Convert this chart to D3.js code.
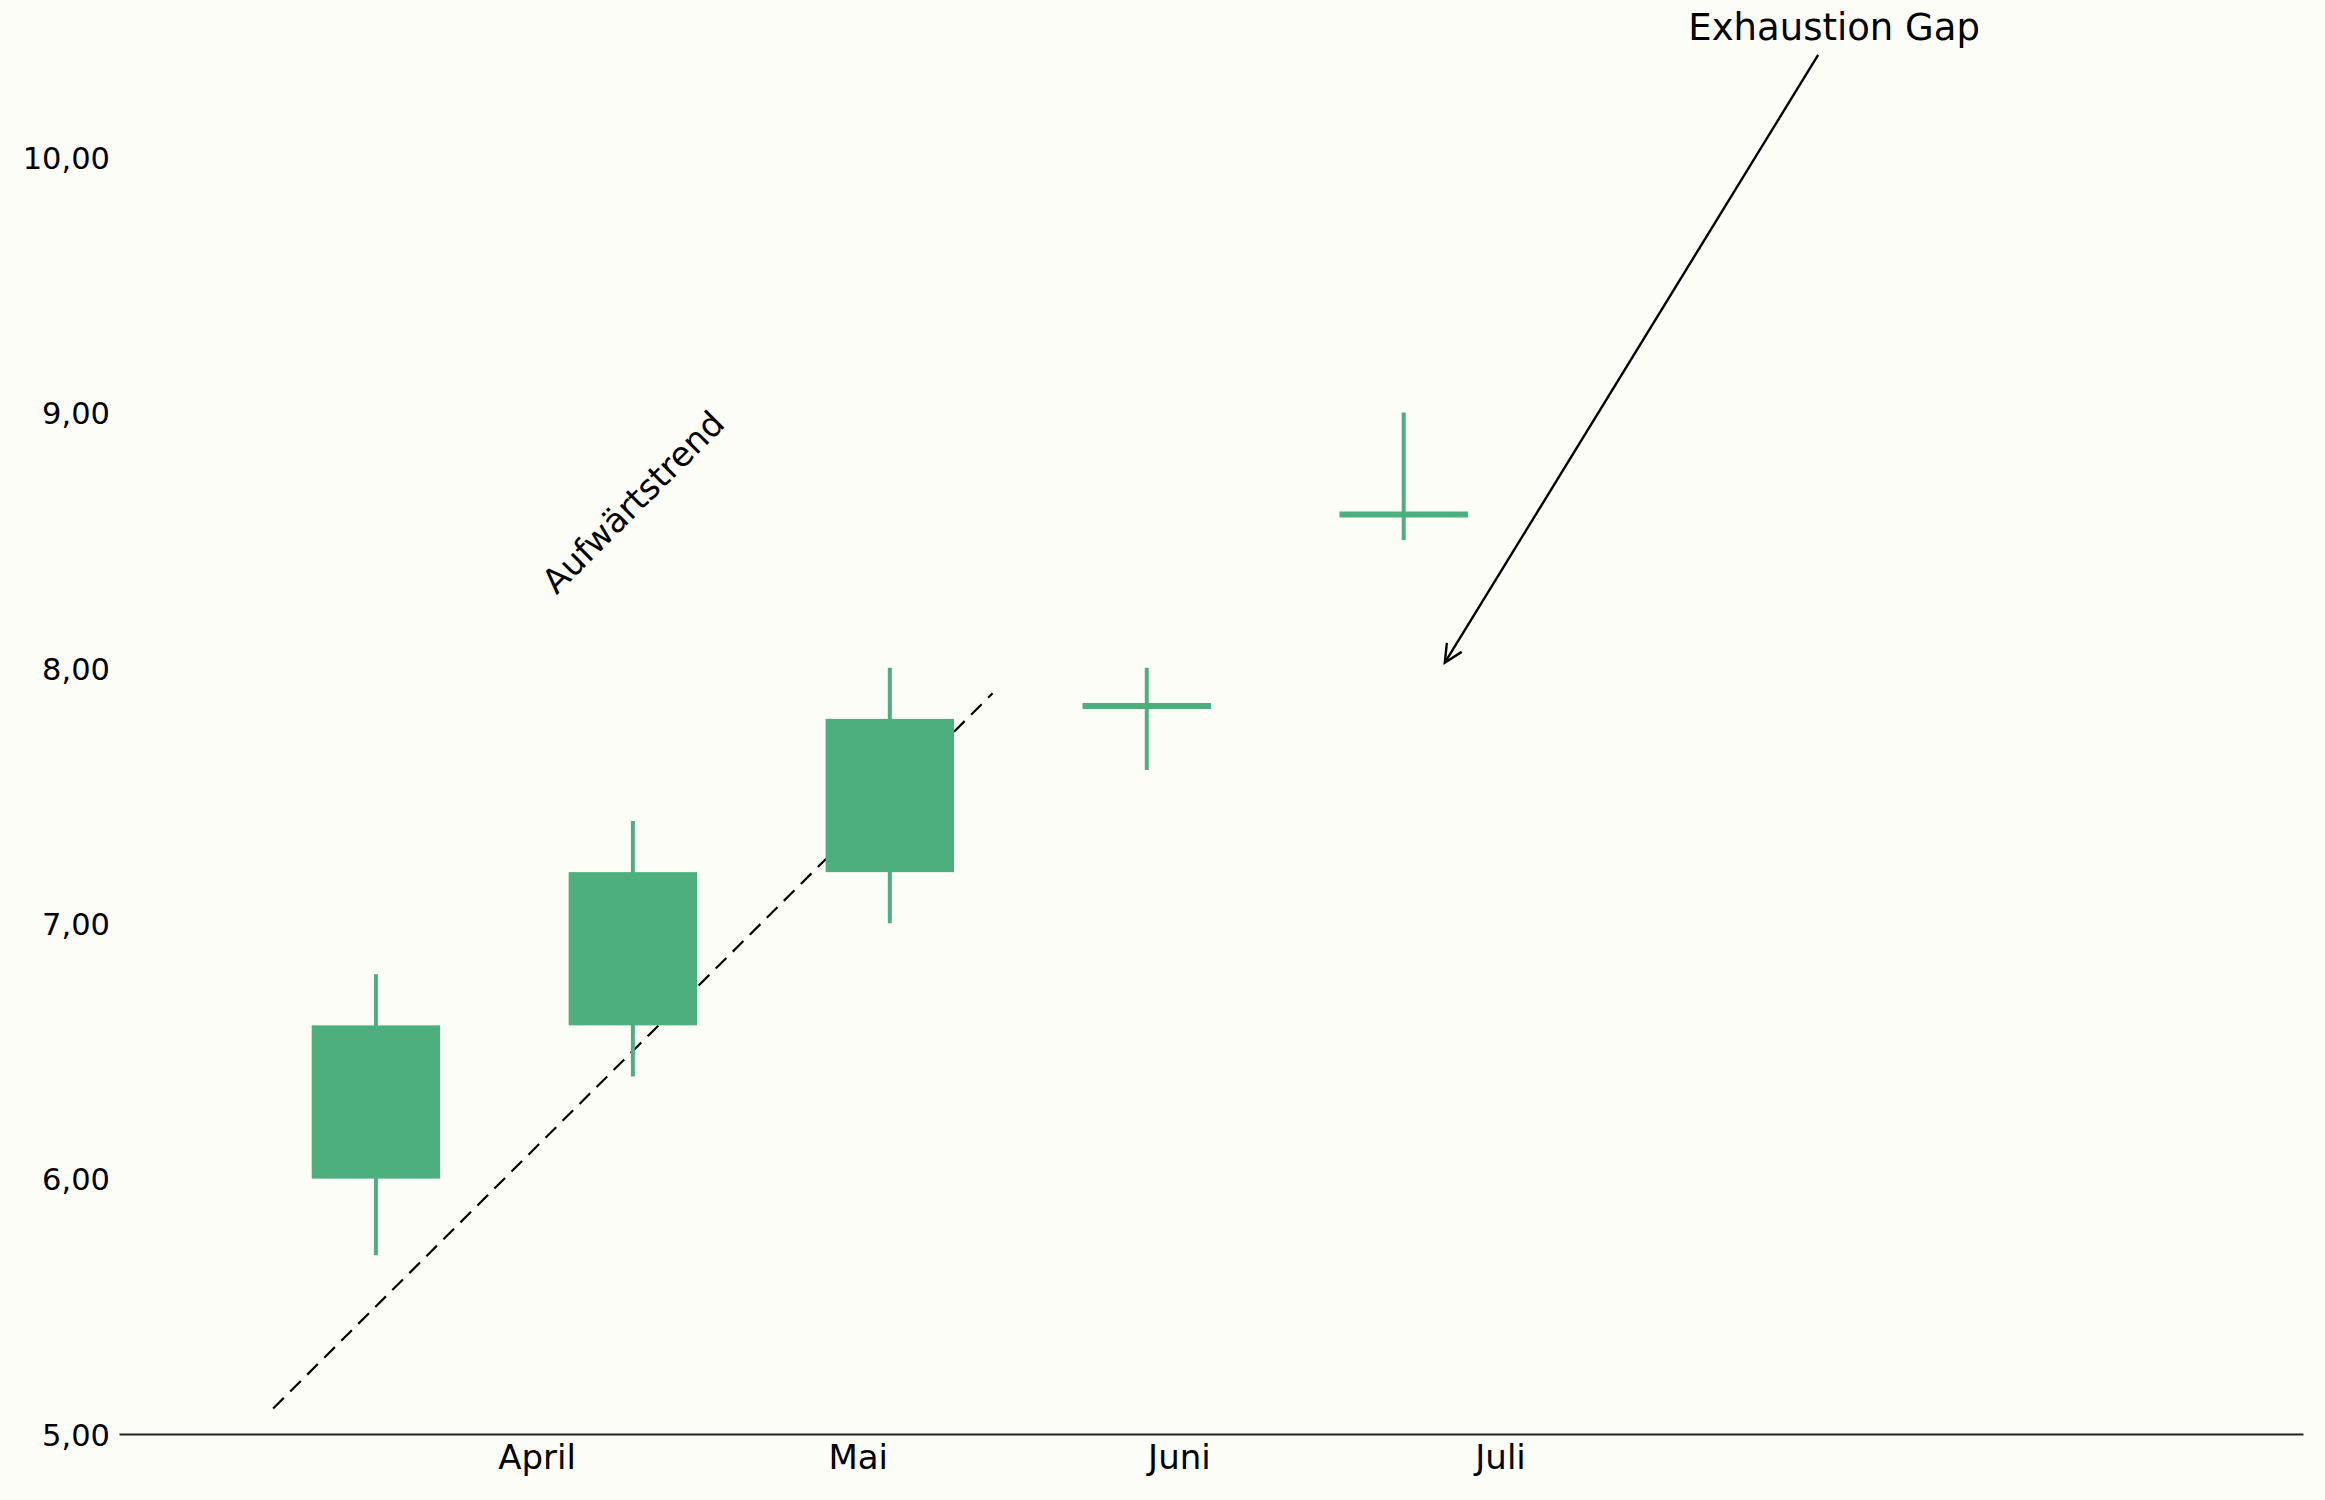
<!DOCTYPE html>
<html>
<head>
<meta charset="utf-8">
<script src="https://cdn.jsdelivr.net/npm/d3@7"></script>
<style>
  body { margin: 0; background: #fdfdf8; }
  svg { display: block; font-family: "DejaVu Sans", sans-serif; }
</style>
</head>
<body>
<div id="chart"></div>
<script>
// candles (x in candle index units)
const candleX = [0, 1, 2, 3, 4];
const opens = [6.0, 6.6, 7.2, 7.85, 8.6];
const closes = [6.6, 7.2, 7.8, 7.85, 8.6];
const highs = [6.8, 7.4, 8.0, 8.0, 9.0];
const lows = [5.7, 6.4, 7.0, 7.6, 8.5];

// axis ticks
const monthTicks = [0.625, 1.875, 3.125, 4.375];
const monthLabels = ["April", "Mai", "Juni", "Juli"];
const yTicks = [5, 6, 7, 8, 9, 10];

// annotations
const trendLine = [[-0.4, 5.1], [2.4, 7.9]];
const trendLabel = ["Aufwärtstrend", 1.0, 8.65];
const gapLabel = ["Exhaustion Gap", 5.675, 10.46];
const gapArrowFrom = [5.613, 10.4];
const gapArrowTo = [4.16, 8.02];

const W = 2325, H = 1500;
const green = "#4eaf7e";

const x = d3.scaleLinear().domain([-1, 7.5]).range([119, 2303]);
const y = d3.scaleLinear().domain([5, 10]).range([1434, 157]);
const halfW = (x(0.5) - x(0)) / 2;

const de = d3.formatLocale({ decimal: ",", thousands: ".", grouping: [3], currency: ["", " €"] });
const fmt = de.format(".2f");

const svg = d3.select("#chart").append("svg")
  .attr("width", W)
  .attr("height", H)
  .style("background", "#fdfdf8");

// x axis
const gx = svg.append("g")
  .attr("transform", `translate(0,${y(5)})`)
  .call(d3.axisBottom(x).tickValues(monthTicks).tickSize(0).tickSizeOuter(0).tickPadding(11)
    .tickFormat((d, i) => monthLabels[i]));
gx.select(".domain").attr("stroke", "#222").attr("stroke-width", 1.8);
gx.selectAll("text").attr("font-size", 34).attr("fill", "#000").attr("font-family", "DejaVu Sans");

// y axis, labels only
const gy = svg.append("g")
  .attr("transform", `translate(${x(-1)},0)`)
  .call(d3.axisLeft(y).tickValues(yTicks).tickSize(0).tickPadding(9).tickFormat(fmt));
gy.select(".domain").remove();
gy.selectAll("text").attr("font-size", 30.5).attr("fill", "#000").attr("dy", "0.37em")
  .attr("font-family", "DejaVu Sans");

// trend line
svg.append("line")
  .attr("x1", x(trendLine[0][0])).attr("y1", y(trendLine[0][1]))
  .attr("x2", x(trendLine[1][0])).attr("y2", y(trendLine[1][1]))
  .attr("stroke", "#000")
  .attr("stroke-width", 2.2)
  .attr("stroke-dasharray", "15,9");

// candles
const candles = candleX.map((d, i) => ({ x: d, o: opens[i], c: closes[i], h: highs[i], l: lows[i] }));
const g = svg.append("g");

g.selectAll("line.wick")
  .data(candles)
  .join("line")
  .attr("class", "wick")
  .attr("x1", (d) => x(d.x)).attr("x2", (d) => x(d.x))
  .attr("y1", (d) => y(d.h)).attr("y2", (d) => y(d.l))
  .attr("stroke", green)
  .attr("stroke-width", 4);

g.selectAll("rect.body")
  .data(candles.filter((d) => d.o !== d.c))
  .join("rect")
  .attr("class", "body")
  .attr("x", (d) => x(d.x) - halfW)
  .attr("width", halfW * 2)
  .attr("y", (d) => y(Math.max(d.o, d.c)))
  .attr("height", (d) => Math.abs(y(d.o) - y(d.c)))
  .attr("fill", green);

// doji: open == close
g.selectAll("line.doji")
  .data(candles.filter((d) => d.o === d.c))
  .join("line")
  .attr("class", "doji")
  .attr("x1", (d) => x(d.x) - halfW).attr("x2", (d) => x(d.x) + halfW)
  .attr("y1", (d) => y(d.o)).attr("y2", (d) => y(d.o))
  .attr("stroke", green)
  .attr("stroke-width", 6);

// trend label
svg.append("text")
  .attr("transform", `translate(${x(trendLabel[1])},${y(trendLabel[2])}) rotate(-45)`)
  .attr("text-anchor", "middle")
  .attr("dy", "0.36em")
  .attr("font-size", 34)
  .text(trendLabel[0]);

// exhaustion gap annotation
svg.append("text")
  .attr("x", x(gapLabel[1]))
  .attr("y", y(gapLabel[2]))
  .attr("text-anchor", "middle")
  .attr("font-size", 37)
  .text(gapLabel[0]);

const ax0 = x(gapArrowFrom[0]), ay0 = y(gapArrowFrom[1]);
const ax1 = x(gapArrowTo[0]), ay1 = y(gapArrowTo[1]);
svg.append("line")
  .attr("x1", ax0).attr("y1", ay0)
  .attr("x2", ax1).attr("y2", ay1)
  .attr("stroke", "#000")
  .attr("stroke-width", 2.4);

// open arrow head
const ang = Math.atan2(ay1 - ay0, ax1 - ax0);
const headLen = 20, headAng = Math.PI / 7;
svg.append("path")
  .attr("d", `M${ax1 - headLen * Math.cos(ang - headAng)},${ay1 - headLen * Math.sin(ang - headAng)}
    L${ax1},${ay1}
    L${ax1 - headLen * Math.cos(ang + headAng)},${ay1 - headLen * Math.sin(ang + headAng)}`)
  .attr("fill", "none")
  .attr("stroke", "#000")
  .attr("stroke-width", 2.4);
</script>
</body>
</html>
